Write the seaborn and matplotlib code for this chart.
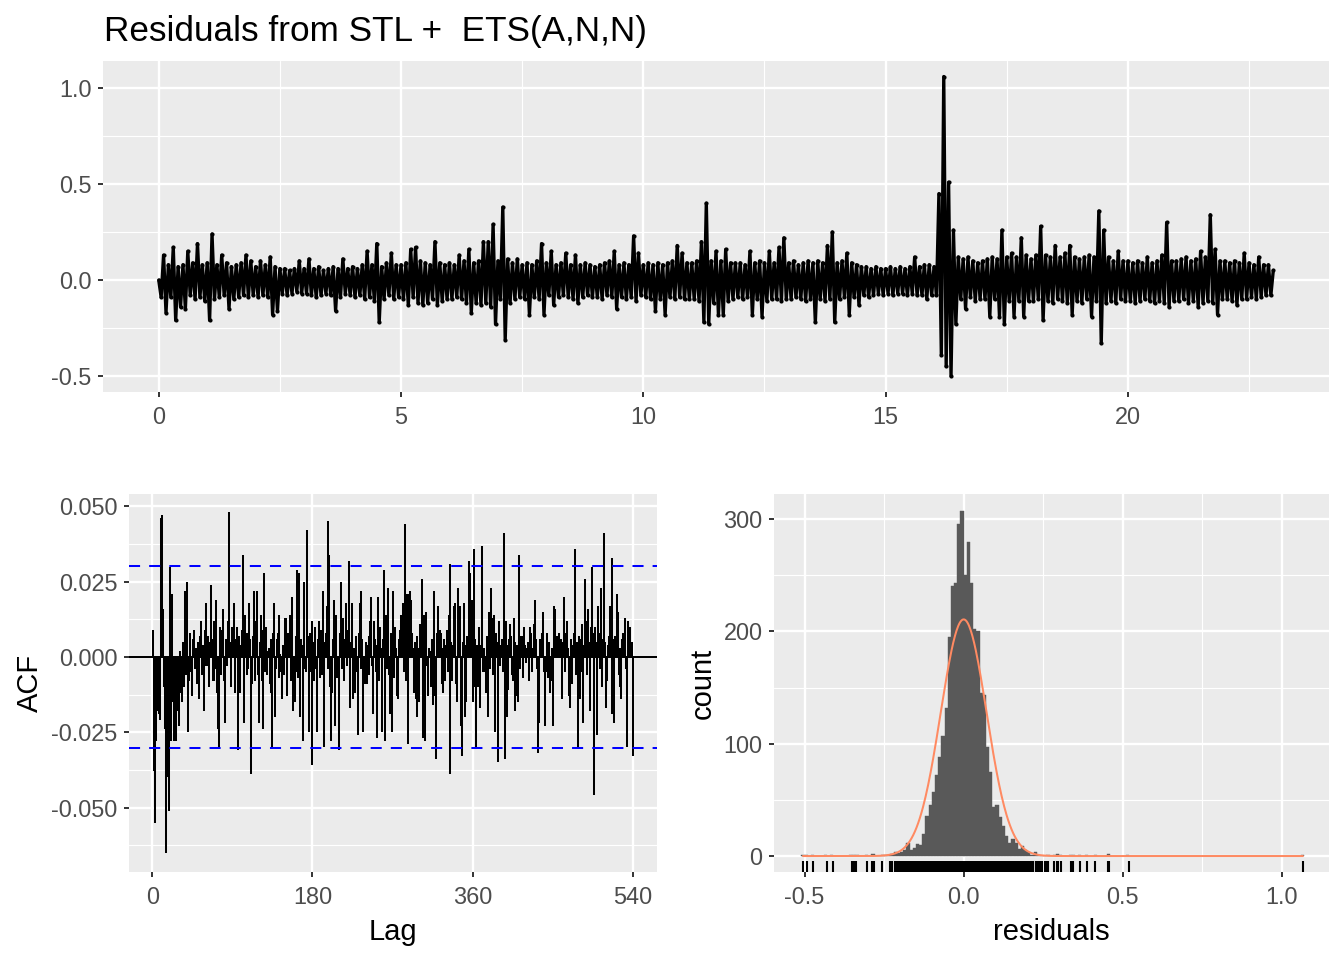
import numpy as np
import pandas as pd
import seaborn as sns
import matplotlib.pyplot as plt

# residuals, in hundredths, one value every 0.05 time units
resid_step = 0.05
resid_pct = [
    0, -9, 13, -17, 8, -9, 17, -21, 7, -14, 8, -15, 15, -8, 9, -10, 19, -9, 8, -11,
    9, -21, 24, -10, 8, -9, 13, -8, 9, -15, 7, -10, 8, -9, 9, -8, 13, -9, 10, -8,
    7, -9, 10, -8, 8, -9, 12, -18, 7, -16, 6, -7, 6, -8, 5, -7, 6, -6, 10, -7,
    6, -7, 11, -8, 6, -9, 7, -8, 5, -7, 6, -8, 7, -16, 6, -9, 11, -7, 6, -8,
    7, -9, 6, -8, 8, -10, 15, -9, 8, -11, 19, -22, 7, -10, 9, -8, 14, -10, 8, -9,
    8, -10, 9, -13, 16, -9, 17, -12, 10, -13, 9, -12, 8, -10, 20, -13, 9, -11, 8, -10,
    9, -10, 8, -9, 13, -10, 10, -12, 16, -17, 9, -12, 10, -13, 20, -12, 20, -14, 29, -23,
    10, -10, 38, -31, 11, -12, 9, -10, 11, -9, 8, -10, 9, -18, 8, -9, 10, -10, 19, -18,
    9, -8, 15, -13, 8, -9, 9, -8, 14, -9, 8, -10, 13, -12, 8, -9, 9, -8, 8, -9,
    7, -9, 8, -10, 9, -8, 10, -9, 15, -15, 8, -9, 9, -10, 8, -9, 23, -11, 14, -8,
    8, -9, 9, -10, 8, -16, 9, -10, 8, -18, 9, -9, 10, -10, 18, -9, 14, -10, 9, -10,
    9, -10, 10, -11, 20, -22, 40, -23, 10, -12, 15, -18, 10, -18, 16, -11, 9, -10, 9, -9,
    9, -10, 8, -9, 15, -18, 9, -10, 10, -19, 9, -11, 15, -10, 9, -10, 17, -11, 22, -10,
    9, -10, 10, -9, 8, -10, 9, -11, 10, -10, 9, -22, 10, -10, 9, -11, 18, -10, 25, -22,
    9, -10, 10, -9, 14, -18, 9, -9, 8, -13, 7, -8, 7, -9, 6, -8, 7, -7, 6, -8,
    6, -7, 7, -8, 6, -7, 7, -7, 6, -8, 7, -7, 12, -8, 7, -8, 8, -10, 8, -8,
    7, -8, 45, -39, 106, -45, 51, -50, 26, -23, 12, -10, 11, -15, 12, -9, 10, -11, 9, -10,
    10, -10, 11, -19, 12, -10, 11, -19, 26, -23, 12, -11, 14, -19, 12, -11, 22, -19, 13, -11,
    11, -11, 13, -10, 28, -21, 13, -11, 12, -12, 18, -10, 12, -11, 14, -12, 18, -18, 12, -11,
    11, -12, 12, -10, 13, -19, 12, -11, 36, -33, 26, -12, 12, -11, 10, -12, 15, -10, 10, -11,
    10, -11, 9, -12, 10, -11, 9, -10, 12, -11, 9, -12, 10, -11, 13, -12, 30, -14, 10, -11,
    10, -11, 11, -10, 12, -12, 10, -11, 11, -14, 15, -12, 12, -11, 34, -12, 16, -18, 10, -10,
    10, -10, 9, -11, 10, -13, 9, -10, 14, -10, 9, -9, 8, -10, 12, -9, 8, -8, 8, -8,
    5,
]

# autocorrelations for lags 1..540, in thousandths
acf_milli = [
    9, -38, -55, -28, -13, -18, -10, -19, -21, 46,
    47, 16, -10, -24, -40, -65, -40, -22, -51, 30,
    -28, 21, -15, -20, -28, -12, -28, -10, -18, -23,
    2, -12, -8, -15, 5, -10, 22, -6, 25, -25,
    -8, 4, 8, -5, -13, 6, 9, -4, 3, -9,
    5, 2, -14, 7, 12, -6, 4, -18, 9, -3,
    18, -3, 7, -10, 5, 24, 6, -8, -8, 12,
    -4, 19, -12, -24, -30, 10, -6, 3, 9, 16,
    -8, -22, 6, -3, 12, 48, 5, -10, 3, 10,
    4, 18, -12, 6, 10, -31, 7, -5, -12, 4,
    9, 34, -22, 14, 3, -6, 8, -4, 18, 6,
    -39, -9, 7, 22, -3, -8, 12, 22, -6, -22,
    5, 14, -8, -24, 9, 28, -5, 10, -6, 2,
    3, -9, 6, -12, -30, 8, 18, -20, -4, 6,
    8, 14, -7, 1, -5, -14, 4, -6, 13, 13,
    -6, -13, 8, 3, 14, -8, 20, -18, -4, -15,
    -5, 7, 29, -7, 28, -20, 6, 4, -28, 11,
    25, -4, -5, 42, 7, -25, 8, -5, 12, -36,
    5, -8, 10, -4, -25, 6, 12, -7, 3, 9,
    -6, 22, -30, 5, 8, 17, -4, 45, 34, -10,
    -28, -12, 6, 19, -23, 4, 14, -7, -6, -31,
    8, 25, -4, 13, -5, -8, 6, 18, -3, 9,
    32, -17, 5, 9, 18, -14, 3, -12, 7, -5,
    -26, 8, 18, -4, 22, 6, -25, -3, -9, 5,
    -9, 4, 7, -6, 12, 20, -3, -19, 12, 6,
    -5, -27, 4, 20, -8, 10, 3, -25, 6, 29,
    -28, 5, 14, -4, 23, -6, -19, 8, -25, 4,
    22, -7, 10, 3, -13, -14, 6, 9, 14, 12,
    6, 18, -5, 44, -8, 21, -29, 21, 5, 22,
    19, 8, 3, -12, 5, -14, 7, -20, 3, -15,
    11, 4, 26, -27, 14, 6, -28, 15, -3, -13,
    3, 2, -10, 6, -16, 4, 22, -13, -34, 8,
    17, 5, 9, 8, -9, 3, -12, 6, -8, 4,
    9, -5, 14, 31, -39, 5, -8, 4, 17, 18,
    -9, -15, 6, 23, 5, 17, -23, -33, 5, 18,
    -20, 4, -15, 7, 3, 32, 28, 5, 19, -15,
    36, -10, 6, -30, 4, -10, 10, -17, 4, 30,
    37, -5, 3, -5, -12, 7, -20, 15, 8, -4,
    23, 13, -6, 14, -25, 8, 5, -35, 12, -3,
    -3, 4, 6, -5, 41, -34, 12, 4, -20, -11,
    6, 11, 7, -6, -8, 13, 5, -18, -13, 4,
    -15, 34, -4, 7, 7, -3, -7, 10, 4, -2,
    3, 5, -8, 10, 4, 8, -5, 3, 11, 19,
    6, -4, -32, -8, -22, 6, 3, 8, 15, -5,
    -23, -5, 4, 8, -7, 5, -12, -8, 3, -23,
    17, 16, 5, 7, 4, 7, 8, 3, 6, -14,
    5, 16, 20, -5, 8, 12, 3, -13, -17, 6,
    -9, 4, 2, 8, 36, -6, 5, -30, 7, -14,
    6, -5, 11, -22, 4, 26, 12, -6, 15, 16,
    5, -18, 10, 30, 8, -46, 10, 5, 3, -26,
    17, 8, -4, 23, -10, 6, 3, 41, 5, -17,
    -8, 4, 7, 17, 5, 33, -19, 6, -22, 7,
    4, 21, 15, -6, -10, 3, -14, 6, 8, 4,
    13, -4, -30, 12, 6, 5, 10, 3, 5, -33,
]
acf_ci = 0.0303

# histogram: counts per 0.01 bin starting at -0.26, plus single outlying residuals
hist_start = -0.26
hist_binw = 0.01
hist_counts = [
    1, 1, 1, 2, 4, 3, 4, 5, 12, 5, 7, 11, 10, 20, 36, 45, 57, 72, 88, 107, 132, 195,
    240, 243, 296, 307, 250, 280, 243, 202, 200, 145, 143, 97, 75, 44, 45, 35, 27,
    18, 12, 15, 12, 6, 9, 5, 4, 1, 4, 1, 0, 0,
]
tail_milli = [-505, -491, -473, -431, -412, -352, -345, -337, -305, -289, -281,
              266, 285, 292, 296, 306, 337, 345, 366, 387, 413, 453, 458, 518, 1066]
norm_mean, norm_sd = 0.0, 0.072

# rug marks (thousandths): isolated ticks, and the solid run in the middle
rug_sparse_milli = [-505, -491, -473, -431, -412, -352, -345, -337, -305, -289, -281,
                    -258, -230, -225, -215, -210, -203, -197,
                    219, 226, 235, 239, 245, 256, 262, 266, 285, 292, 296, 306, 337, 345,
                    366, 387, 413, 453, 458, 518, 1066]
rug_dense_milli = [-192, -186, -180, -174, -168, -162, -156, -150, -144, -138, -132, -126,
                   -120, -114, -108, -102, -96, -90, -84, -78, -72, -66, -60, -54, -48, -42,
                   -36, -30, -24, -18, -12, -6, 0, 6, 12, 18, 24, 30, 36, 42, 48, 54, 60, 66,
                   72, 78, 84, 90, 96, 102, 108, 114, 120, 126, 132, 138, 144, 150, 156, 162,
                   168, 174, 180, 186, 192, 198, 204, 210, 215]

BG = '#EBEBEB'
sns.set_theme(style='darkgrid')
plt.rcParams['font.family'] = ['Liberation Sans', 'DejaVu Sans']

fig = plt.figure(figsize=(13.44, 9.6), dpi=100)
ax_ts = fig.add_axes([103 / 1344, 1 - 392 / 960, 1226 / 1344, 331 / 960])
ax_acf = fig.add_axes([129 / 1344, 1 - 872 / 960, 528 / 1344, 378 / 960])
ax_hist = fig.add_axes([774 / 1344, 1 - 872 / 960, 555 / 1344, 378 / 960])


def gg_style(ax, xmaj, xmin, ymaj, ymin, xlab, ylab):
    ax.set_facecolor(BG)
    for s in ax.spines.values():
        s.set_visible(False)
    ax.set_xticks(xmaj)
    ax.set_xticks(xmin, minor=True)
    ax.set_yticks(ymaj)
    ax.set_yticks(ymin, minor=True)
    ax.set_xticklabels(xlab)
    ax.set_yticklabels(ylab)
    ax.grid(which='major', color='white', linewidth=1.7)
    ax.grid(which='minor', color='white', linewidth=0.85)
    ax.tick_params(which='major', length=3.8, width=1.4, color='#333333',
                   labelsize=16.9, labelcolor='#4D4D4D', bottom=True, left=True)
    ax.tick_params(axis='x', which='major', pad=6.5)
    ax.tick_params(axis='y', which='major', pad=4.5)
    ax.tick_params(which='minor', length=0)
    ax.set_axisbelow(True)


# top: residual series
t = np.arange(len(resid_pct)) * resid_step
r = np.array(resid_pct) / 100
sns.lineplot(x=t, y=r, color='black', linewidth=2.4, sort=False, estimator=None, ax=ax_ts)
sns.scatterplot(x=t, y=r, color='black', s=9, linewidth=0, ax=ax_ts)
ax_ts.set_xlim(-1.15, 24.15)
ax_ts.set_ylim(-0.583, 1.141)
gg_style(ax_ts, [0, 5, 10, 15, 20], [2.5, 7.5, 12.5, 17.5, 22.5],
         [-0.5, 0, 0.5, 1.0], [-0.25, 0.25, 0.75],
         ['0', '5', '10', '15', '20'], ['-0.5', '0.0', '0.5', '1.0'])
ax_ts.set_xlabel('')
ax_ts.set_ylabel('')

# bottom left: ACF
lags = np.arange(1, len(acf_milli) + 1)
acf = np.array(acf_milli) / 1000
ax_acf.axhline(0, color='black', linewidth=1.45, zorder=2)
ax_acf.vlines(lags, 0, acf, color='black', linewidth=1.45, zorder=3)
for c in (acf_ci, -acf_ci):
    ax_acf.axhline(c, color='#0000FF', linewidth=1.45, dashes=(5.5, 4.5), zorder=4)
ax_acf.set_xlim(-26, 567)
ax_acf.set_ylim(-0.0714, 0.0541)
gg_style(ax_acf, [0, 180, 360, 540], [],
         [-0.05, -0.025, 0, 0.025, 0.05], [-0.0625, -0.0375, -0.0125, 0.0125, 0.0375],
         ['0', '180', '360', '540'], ['-0.050', '-0.025', '0.000', '0.025', '0.050'])
ax_acf.set_xlabel('Lag', fontsize=21, color='black', labelpad=6)
ax_acf.set_ylabel('ACF', fontsize=21, color='black', labelpad=5)

# bottom right: histogram + normal curve + rug
centers = hist_start + (np.arange(len(hist_counts)) + 0.5) * hist_binw
tails = np.array(tail_milli) / 1000
hist_df = pd.DataFrame({
    'x': np.concatenate([centers, tails]),
    'w': np.concatenate([np.array(hist_counts, dtype=float), np.ones(len(tails))]),
})
sns.histplot(data=hist_df, x='x', weights='w', binwidth=hist_binw, binrange=(-0.51, 1.07),
             color='#595959', alpha=1, edgecolor='#595959', linewidth=0.3, ax=ax_hist)
n_total = hist_df['w'].sum()
xs = np.linspace(tails.min(), tails.max(), 600)
dens = n_total * hist_binw * np.exp(-0.5 * ((xs - norm_mean) / norm_sd) ** 2) / (norm_sd * np.sqrt(2 * np.pi))
sns.lineplot(x=xs, y=dens, color='#FF8A62', linewidth=1.45, ax=ax_hist)
sns.rugplot(x=np.array(rug_sparse_milli) / 1000, height=0.03, color='black', linewidth=1.5,
            expand_margins=False, ax=ax_hist)
sns.rugplot(x=np.array(rug_dense_milli) / 1000, height=0.03, color='black', linewidth=3,
            expand_margins=False, ax=ax_hist)
ax_hist.set_xlim(-0.596, 1.148)
ax_hist.set_ylim(-14.2, 322.3)
gg_style(ax_hist, [-0.5, 0, 0.5, 1.0], [-0.25, 0.25, 0.75],
         [0, 100, 200, 300], [50, 150, 250],
         ['-0.5', '0.0', '0.5', '1.0'], ['0', '100', '200', '300'])
ax_hist.set_xlabel('residuals', fontsize=21, color='black', labelpad=6)
ax_hist.set_ylabel('count', fontsize=21, color='black', labelpad=5)

fig.text(104 / 1344, 1 - 41 / 960, 'Residuals from STL +  ETS(A,N,N)',
         fontsize=25.3, color='black', ha='left', va='baseline')

fig.savefig('out.png', dpi=100, facecolor='white')
plt.close(fig)
